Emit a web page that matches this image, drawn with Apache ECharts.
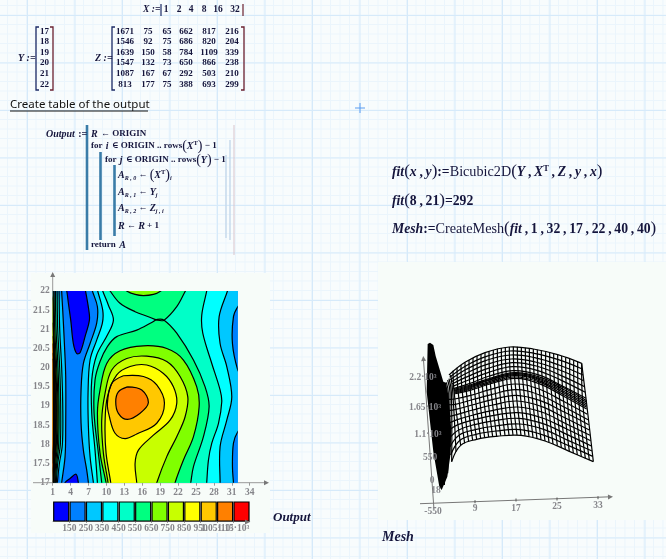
<!DOCTYPE html>
<html><head><meta charset="utf-8">
<style>
html,body{margin:0;padding:0;width:666px;height:559px;overflow:hidden;background-color:#f8fcfd;
background-image:linear-gradient(to right,#d6eafa 1px,transparent 1px),linear-gradient(to bottom,#d6eafa 1px,transparent 1px),linear-gradient(to right,#ebf5fc 1px,transparent 1px),linear-gradient(to bottom,#ebf5fc 1px,transparent 1px);
background-size:47.5px 47.5px,47.5px 47.5px,9.5px 9.5px,9.5px 9.5px;
background-position:27px 0,0 15px,7px 0,0 5px;}
#c{width:666px;height:559px}
</style>
<script src="https://cdn.jsdelivr.net/npm/echarts@6/dist/echarts.min.js"></script>
</head><body><div id="c"></div>
<script>
// ---- worksheet tables
const X=[1,2,4,8,16,32];
const Y=[17,18,19,20,21,22];
const Z=[[1671,75,65,662,817,216],[1546,92,75,686,820,204],[1639,150,58,784,1109,339],[1547,132,73,650,866,238],[1087,167,67,292,503,210],[813,177,75,388,693,299]];
// ---- contour axis ticks and colour bands
const bandLow=[50,150,250,350,450,550,650,750,850,950,1050,1150];
const bandHigh=[150,250,350,450,550,650,750,850,950,1050,1150,1250];
const bandColors=['#0000ff','#0080ff','#00c8ff','#00ffff','#00ffc8','#00ff80','#80ff00','#c8ff00','#ffff00','#ffc800','#ff8000','#ff0000'];
// ---- contour lines, as [x,y] in axis units
const blueTop=[[3.07,22.11],[3.35,22],[3.63,21.68],[4.02,21.24],[4.46,20.63],[5.02,20.37],[5.58,20.39],[6.42,20.81],[7.15,21.24],[7.05,21.5],[6.5,22],[6.3,22.11]];
const blueBottom=[[2.79,16.85],[3.07,17],[3.91,17.11],[4.91,17.22],[5.3,17],[5.41,16.85]];
const c250R1=[[32.7,21.68],[32,21.59],[31.28,21.33],[31.11,20.63],[32,19.94],[32.7,19.81]];
const c250R2=[[33,18.46],[32,18.33],[31.28,18.03],[31.11,17.42],[31.28,17],[31.33,16.85],[33,16.85]];
const c250Mid=[[7.5,22.11],[7.65,22],[8.49,21.59],[8.37,21.16],[7.26,20.63],[6.14,20.11],[5.75,19.42],[5.75,18.55],[6.14,17.85],[6.7,17.33],[6.98,17],[7.09,16.85]];
const c350Mid=[[8.4,22.11],[8.54,22],[9.38,21.5],[9.32,21.16],[8.37,20.72],[7.26,20.2],[6.92,19.33],[6.98,18.46],[7.26,17.68],[7.82,17],[7.93,16.85]];
const c350Right=[[30.44,22.11],[30.27,22],[28.88,21.33],[29.04,20.63],[30.16,20.03],[31,19.24],[30.16,18.63],[29.04,17.94],[29.04,17],[29.04,16.85]];
const c450Mid=[[9.2,22.11],[9.38,22],[10.33,21.63],[11.17,21.24],[10.16,20.85],[8.37,20.33],[7.54,19.68],[7.54,18.81],[8.09,17.85],[8.49,17],[8.55,16.85]];
const c450Right=[[26.92,22.11],[26.8,22],[25.97,21.37],[26.14,20.9],[27.65,20.11],[29.04,19.42],[29.32,19.11],[28.77,18.55],[27.65,18.03],[27.09,17.59],[26.8,17],[26.75,16.85]];
const c550Cap=[[10.16,22.11],[10.61,22],[12.28,21.68],[14.8,21.46],[17.03,21.33],[18.54,21.24],[19.66,21.24],[21.78,21.59],[23.23,22],[23.63,22.11]];
const c550Main=[[9.3,16.85],[9.21,17],[8.65,17.77],[7.93,18.81],[8.09,19.68],[8.93,20.16],[10.16,20.55],[11.73,20.81],[15.08,20.98],[17.59,21.18],[18.54,21.26],[19.66,21.24],[21.78,20.9],[24.58,20.2],[26.53,19.5],[27.2,18.98],[26.25,18.2],[24.58,17.42],[24.13,17],[24,16.85]];
const c650Cap=[[12.84,22.11],[13.4,22],[14.8,21.91],[16.2,21.88],[17.87,21.91],[19.1,22],[19.66,22.11]];
const c650Main=[[10.05,16.85],[9.94,17],[8.93,17.77],[8.49,18.81],[8.93,19.42],[10.05,20.11],[12.28,20.44],[16.2,20.57],[20.11,20.5],[22.9,20.2],[25.13,19.5],[25.53,18.98],[24.58,18.2],[22.9,17.59],[21.5,17],[21.4,16.85]];
const c750=[[10.35,16.85],[10.27,17],[9.49,17.77],[9.21,18.63],[9.77,19.33],[10.89,19.94],[13.4,20.24],[16.75,20.3],[20.11,20.16],[22.34,19.77],[23.63,19.24],[23.18,18.72],[21.78,18.2],[20.11,17.68],[18.43,17],[18.3,16.85]];
const c850=[[10.8,16.85],[10.72,17],[9.94,17.77],[9.77,18.55],[10.16,19.24],[11.73,19.81],[13.96,20.03],[16.75,20.07],[19.55,19.85],[21.22,19.5],[21.78,19.07],[20.66,18.63],[17.87,18.24],[15.36,17.85],[14.8,17.5],[15.08,17],[15.15,16.85]];
const c950=[[12.84,19.79],[16.2,19.77],[18.43,19.55],[19.72,19.07],[18.43,18.55],[15.08,18.27],[13.12,18.15],[11.45,18.29],[10.5,18.72],[10.16,19.07],[10.89,19.59]];
const c1050=[[13.51,19.5],[15.92,19.42],[17.03,19.09],[15.64,18.81],[13.51,18.65],[12,18.81],[11.56,19.11],[12,19.37]];
const left250=[[2.5,22.15],[2.5,22],[2.68,21.5],[2.96,20.63],[3.18,19.76],[3.18,18.46],[3.07,17.68],[2.5,17],[2.4,16.85]];
const left350=[[2.06,22.15],[2.06,22],[2.17,21],[2.5,20],[2.68,19],[2.62,18],[2.12,17.5],[1.78,17],[1.75,16.85]];
const left450=[[1.73,22.15],[1.73,22],[1.84,21],[2.17,20],[2.34,19],[2.28,18],[1.84,17.5],[1.61,17],[1.6,16.85]];
const left550=[[1.45,22.15],[1.45,22],[1.56,21],[1.89,20],[2.06,19],[2,18],[1.67,17.5],[1.45,17],[1.44,16.85]];
const left650=[[1.22,22.15],[1.22,22],[1.34,21],[1.67,20],[1.89,19],[1.78,18],[1.5,17.5],[1.34,17],[1.33,16.85]];
const left750=[[1.06,22.15],[1.06,22],[1.17,21],[1.5,20],[1.73,19],[1.61,18],[1.34,17.5],[1.22,17],[1.21,16.85]];
const left850=[[0.6,21.95],[1,21.76],[1.06,21],[1.39,20],[1.61,19],[1.5,18],[1.28,17.5],[1.11,17],[1.1,16.85]];
const left950=[[0.6,21.2],[1,21.13],[1.28,20],[1.5,19],[1.39,18],[1.17,17.5],[1.06,17],[1.05,16.85]];
const left1050=[[0.6,20.85],[1,20.78],[1.22,20],[1.39,19],[1.28,18],[1.11,17.5],[1,17],[0.9,16.85]];
const left1150=[[0.6,20.65],[1,20.6],[1.17,20],[1.28,19],[1.22,18],[1.06,17.5],[0.8,17.1]];
const left1250=[[0.6,20.4],[1,20.35],[1.11,20],[1.2,19],[1.15,18],[0.9,17.5]];
const left1350=[[0.6,20.25],[1,20.2],[1.06,19.8],[1.12,19],[1.08,18],[0.8,17.6]];
// ---- projected mesh, as [u,v] in the plane of the 3-D picture
const meshSolid=[[143,42],[150,38],[160,45],[167,78],[190,155],[198,158],[206,200],[214,300],[212,370],[202,440],[185,480],[178,470],[160,365],[140,185]];
const meshTop=[[199,157],[203,150],[207,146],[212,135],[219,122],[231,113],[243,105],[255,97],[267,90],[279,84],[291,78],[303,73],[315,68],[327,64],[340,60],[352,56],[364,54],[376,52],[388,51],[400,50],[412,50],[424,51],[436,53],[448,55],[460,57],[472,59],[484,61],[497,64],[509,67],[521,70],[533,74],[545,78],[557,82],[569,87],[581,91],[593,96],[605,100]];
const meshRidge=[[205,190],[210,188],[214,186],[218,184],[222,183],[234,181],[246,178],[258,175],[270,171],[282,167],[294,162],[306,158],[318,154],[330,150],[342,146],[355,143],[367,140],[379,137],[391,135],[403,134],[415,134],[427,135],[439,137],[451,140],[463,143],[475,147],[487,151],[499,156],[512,162],[524,168],[536,175],[548,182],[560,189],[572,196],[584,203],[596,210],[608,216]];
const meshBottom=[[193,465],[203,430],[215,395],[228,365],[242,346],[254,340],[266,335],[278,331],[290,328],[302,325],[314,323],[326,321],[338,320],[350,319],[362,317],[375,316],[387,315],[399,315],[411,315],[423,316],[435,317],[447,319],[459,322],[471,326],[483,329],[495,333],[507,337],[519,342],[532,347],[544,353],[556,358],[568,364],[580,369],[592,375],[604,380],[616,385],[628,390]];
const meshLongU=[207,255,315,388,460,533,605];
const meshLongShift=[0,2,4,6,9,11,13,15,15,15,15,15,15,17,19,21,23,25,27,29,31,33,35];
const meshLongV=[[135,97,68,51,57,74,100],[142,108,80,63,70,89,117],[149,118,91,75,83,105,135],[156,129,103,87,96,120,152],[162,139,115,98,108,136,170],[169,150,127,110,121,151,187],[176,161,138,122,134,167,205],
[178,165,145,128,140,172,212],[181,168,148,131,144,177,217],[183,171,150,134,147,182,222],[186,174,154,137,151,187,227],[189,177,158,141,155,192,232],[192,181,162,145,160,197,237],
[207,196,178,162,177,214,253],[223,210,194,179,195,231,269],[238,225,209,196,212,247,284],[254,240,225,213,229,264,300],[269,255,241,231,246,281,316],[284,269,256,248,264,297,332],[300,284,272,265,281,314,348],[315,299,288,282,298,331,363],[331,313,303,299,316,347,379],[346,328,319,316,333,364,395]];
const meshLeadPoints=[[205,208],[205,224],[205,242],[205,260],[206,280],[207,300],[208,325],[210,350],[212,375],[215,395]];

// ---- assembly: paint order of filled regions, then the lines
const farRight=[[34,16.5],[34,22.6],[-1,22.6],[-1,16.5]];
const rightEdge=[[34,16.5],[34,22.6]];
const leftEdge=[[-1,16.5],[-1,22.6]];
const rev=a=>a.slice().reverse();
const fillRings=[
 ['#0080ff',farRight],['#0000ff',blueTop],['#0000ff',blueBottom],
 ['#00c8ff',c250Mid.concat(rightEdge)],
 ['#0080ff',c250R1],['#0080ff',c250R2],
 ['#00ffff',c350Mid.concat(rev(c350Right))],
 ['#00ffc8',c450Mid.concat(rev(c450Right))],
 ['#00ff80',c550Cap],['#00ff80',c550Main],
 ['#80ff00',c650Cap],['#80ff00',c650Main],
 ['#c8ff00',c750],['#ffff00',c850],['#ffc800',c950],['#ff8000',c1050],
 ['#00c8ff',leftEdge.concat(rev(left250))],['#00ffff',leftEdge.concat(rev(left350))],['#00ffc8',leftEdge.concat(rev(left450))],
 ['#00ff80',leftEdge.concat(rev(left550))],['#80ff00',leftEdge.concat(rev(left650))],['#c8ff00',leftEdge.concat(rev(left750))],
 ['#ffff00',leftEdge.concat(rev(left850))],['#ffc800',leftEdge.concat(rev(left950))],['#ff8000',leftEdge.concat(rev(left1050))],['#ff0000',leftEdge.concat(rev(left1150))]
];
const contourLines=[blueTop,blueBottom,c250R1,c250R2,c250Mid,c350Mid,c350Right,c450Mid,c450Right,c550Cap,c550Main,c650Cap,c650Main,c750,c850,c950.concat([c950[0]]),c1050.concat([c1050[0]]),left250,left350,left450,left550,left650,left750,left850,left950,left1050,left1150,left1250,left1350];
const meshLines=[];
meshTop.forEach((p,i)=>meshLines.push([p,meshRidge[i],meshBottom[i]]));
meshLines.push([[605,100],[620,222],[640,395]]);
meshLongV.forEach((vs,r)=>{
 const line=vs.map((v,j)=>[meshLongU[j]+meshLongShift[r],v]);
 if(r>=13) line.unshift(meshLeadPoints[r-13]);
 meshLines.push(line);
});

// ---- text helpers
const INK='#15153c', GREY='#85858a';
const MATH='"Liberation Serif","DejaVu Serif",serif';
const gfx=[];
function txt(x,y,s,o){o=o||{};gfx.push({type:'text',x,y,z:100,silent:true,style:Object.assign({text:s,font:(o.w||'bold')+' '+(o.size||9.5)+'px '+MATH,fill:o.fill||INK,align:o.align||'left',verticalAlign:'middle'},o.extra||{})});}
function line(pts,color,w,z){gfx.push({type:'polyline',z:z===undefined?90:z,silent:true,shape:{points:pts},style:{stroke:color,lineWidth:w||1,fill:null}});}
function arrow(x,y,dx,dy){const nx=-dy,ny=dx;gfx.push({type:'polygon',z:90,silent:true,shape:{points:[[x+dx*5,y+dy*5],[x+nx*2.5,y+ny*2.5],[x-nx*2.5,y-ny*2.5]]},style:{fill:'#777'}});}
function bracket(x0,x1,y0,y1){line([[x0+3,y0],[x0,y0],[x0,y1],[x0+3,y1]],'#1c2a66',1.3);line([[x1-3,y0],[x1,y0],[x1,y1],[x1-3,y1]],'#6a2030',1.3);}
const mathRich={i:{font:'italic bold 13.7px '+MATH,fill:INK},r:{font:'bold 13.7px '+MATH,fill:INK},n:{font:'14.2px '+MATH,fill:INK},p:{font:'17px '+MATH,fill:INK},s:{font:'bold 8.5px '+MATH,fill:INK,padding:[0,0,6,0]}};
const progRich={i:{font:'italic bold 10px '+MATH,fill:INK},r:{font:'bold 9px '+MATH,fill:INK},p:{font:'14px '+MATH,fill:INK},s:{font:'bold 6.5px '+MATH,fill:INK,padding:[0,0,5,0]},d:{font:'italic bold 6px '+MATH,fill:INK,padding:[7,0,0,0]}};
function rich(x,y,s,r){gfx.push({type:'text',x,y,z:100,silent:true,style:{text:s,verticalAlign:'middle',rich:r}});}

// panels
gfx.push({type:'rect',z:-5,silent:true,shape:{x:31,y:273,width:239,height:260},style:{fill:'#f7fcf9'}});
gfx.push({type:'rect',z:-5,silent:true,shape:{x:378,y:262,width:288,height:258},style:{fill:'#f7fcf9'}});
// X, Y, Z definitions
txt(143,10,'X :=',{size:9.5,w:'italic bold'});
line([[161,4],[161,16]],'#1c2a66',1.2);line([[243,4],[243,16]],'#6a2030',1.2);
const xCols=[166,179,191,204,218,235];
X.forEach((v,i)=>txt(xCols[i],10,String(v),{align:'center'}));
txt(18,58,'Y :=',{size:10,w:'italic bold'});
bracket(36,53,27,90);
const rowsY=[32,42,53,63,74,85];
Y.forEach((v,i)=>txt(44.5,rowsY[i],String(v),{align:'center',size:9}));
txt(95,58,'Z :=',{size:10,w:'italic bold'});
bracket(112,244,27,90);
const zCols=[125,148,167,186,209,232];
Z.forEach((row,r)=>row.forEach((v,c)=>txt(zCols[c],rowsY[r],String(v),{align:'center',size:9})));
// heading
gfx.push({type:'text',x:10,y:105,z:100,silent:true,style:{text:'Create table of the output',font:'11.5px "Noto Sans",sans-serif',fill:'#111',verticalAlign:'middle'}});
line([[10,111],[148,111]],'#111',1);
line([[355,108],[365,108]],'#5a9cf0',1);line([[360,103],[360,113]],'#5a9cf0',1);
// program block
rich(46,134,'{i|Output} {r|:=}',{i:{font:'italic bold 10px '+MATH,fill:INK},r:{font:'bold 10px '+MATH,fill:INK}});
line([[87,125],[87,250]],'#3a7ca8',2.6);line([[100.5,152],[100.5,240]],'#3a7ca8',2.6);line([[114.5,165],[114.5,236]],'#3a7ca8',2.6);
line([[234,125],[234,255]],'#d8c4cc',1);line([[230,140],[230,240]],'#c4d8ea',1.4);line([[226,155],[226,238]],'#c4d8ea',1.4);
rich(91,134,'{i|R} {r|← ORIGIN}',progRich);
rich(91,146,'{r|for} {i|i} {r|∈ ORIGIN .. rows}{p|(}{i|X}{s|T}{p|)}{r| − 1}',progRich);
rich(105,160,'{r|for} {i|j} {r|∈ ORIGIN .. rows}{p|(}{i|Y}{p|)}{r| − 1}',progRich);
rich(118,175,'{i|A}{d|R , 0}{r| ← }{p|(}{i|X}{s|T}{p|)}{d|i}',progRich);
rich(118,192,'{i|A}{d|R , 1}{r| ← }{i|Y}{d|j}',progRich);
rich(118,208,'{i|A}{d|R , 2}{r| ← }{i|Z}{d|j , i}',progRich);
rich(118,226,'{i|R}{r| ← }{i|R}{r| + 1}',progRich);
rich(91,245,'{r|return} {i|A}',progRich);
// right formulas
const cm='\u2009,\u2009';
rich(392,172,'{i|fit}{p|(}{i|x}{r|'+cm+'}{i|y}{p|)}{r|:=}{n|Bicubic2D}{p|(}{i|Y}{r|'+cm+'}{i|X}{s|T}{r|'+cm+'}{i|Z}{r|'+cm+'}{i|y}{r|'+cm+'}{i|x}{p|)}',mathRich);
rich(392,201,'{i|fit}{p|(}{r|8'+cm+'21}{p|)}{r|=292}',mathRich);
rich(392,229,'{i|Mesh}{r|:=}{n|CreateMesh}{p|(}{i|fit}{r|'+cm+'1'+cm+'32'+cm+'17'+cm+'22'+cm+'40'+cm+'40}{p|)}',mathRich);
// plot captions
txt(273,518,'Output',{size:13,w:'italic bold'});
txt(382,537,'Mesh',{size:14,w:'italic bold'});
// contour axis extensions and arrows
line([[33,482.7],[266,482.7]],'#999',1,1);arrow(264,482.7,1,0);
line([[52.7,482.7],[52.7,276]],'#999',1,1);arrow(52.7,277,0,-1);
// colour bar axis
arrow(245,522,1,0);
// mesh axes
line([[420,503.7],[610,496.8]],'#777',1,1);arrow(608,496.9,1,-0.04);
line([[434,510],[423.5,360]],'#777',1,1);arrow(423.6,361,-0.07,-1);
[[475,501.7],[516,500],[557,499],[598,497.7]].forEach(p=>line([[p[0],p[1]-1.5],[p[0],p[1]+1.5]],'#555',1,1));
const G={fill:GREY,size:9.5,align:'center'};
const meshYLabels=[['2.2·10³',423,378],['1.65·10³',425,408],['1.1·10³',428,435],['550',430,458],['0',432,481],['18',436,491]];
const meshXLabels=[['-550',433,512],['9',475,509],['17',516,509],['25',557,507],['33',598,506]];
meshYLabels.concat(meshXLabels).forEach(l=>txt(l[1],l[2],l[0],G));

const chart=echarts.init(document.getElementById('c'),null,{renderer:'canvas',width:666,height:559});
const axisText={color:GREY,fontFamily:MATH,fontWeight:'bold',fontSize:9.5};
function clipRect(api){const a=api.coord([1,22]),b=api.coord([32,17]);return {type:'rect',shape:{x:a[0],y:a[1],width:b[0]-a[0],height:b[1]-a[1]}};}
chart.setOption({
 animation:false,
 backgroundColor:'transparent',
 graphic:{elements:gfx},
 grid:[
  {left:52.7,top:291,width:197,height:191.7},
  {left:53,top:502,width:196.7,height:19},
  {left:380,top:330,width:240,height:229}
 ],
 xAxis:[
  {gridIndex:0,type:'value',min:1,max:34,interval:3,splitLine:{show:false},axisLine:{show:false},axisTick:{lineStyle:{color:'#999'},length:3},axisLabel:Object.assign({margin:5},axisText)},
  {gridIndex:1,type:'value',min:50,max:1250,interval:100,splitLine:{show:false},axisLine:{lineStyle:{color:'#999'}},axisTick:{lineStyle:{color:'#999'},length:2},
   axisLabel:Object.assign({margin:3,showMinLabel:false,showMaxLabel:false,hideOverlap:false,formatter:v=>v>=1000?(v/1000).toFixed(2)+'·10³':String(v)},axisText)},
  {gridIndex:2,type:'value',min:0,max:720,show:false}
 ],
 yAxis:[
  {gridIndex:0,type:'value',min:17,max:22,interval:0.5,splitLine:{show:false},axisLine:{show:false},axisTick:{show:false},axisLabel:Object.assign({margin:3},axisText)},
  {gridIndex:1,type:'value',min:0,max:1,show:false},
  {gridIndex:2,type:'value',min:0,max:687,inverse:true,show:false}
 ],
 series:[
  {type:'custom',xAxisIndex:0,yAxisIndex:0,z:2,silent:true,data:fillRings.map((r,i)=>[i,17]),
   renderItem(p,api){const r=fillRings[p.dataIndex];return {type:'polygon',shape:{points:r[1].map(q=>api.coord(q)),smooth:0.35},style:{fill:r[0]},clipPath:clipRect(api)};}},
  {type:'custom',xAxisIndex:0,yAxisIndex:0,z:3,silent:true,data:contourLines.map((r,i)=>[i,17]),
   renderItem(p,api){return {type:'polyline',shape:{points:contourLines[p.dataIndex].map(q=>api.coord(q)),smooth:0.35},style:{stroke:'#000',lineWidth:1.2,fill:null},clipPath:clipRect(api)};}},
  {type:'custom',xAxisIndex:1,yAxisIndex:1,silent:true,data:bandLow.map((v,i)=>[v,bandHigh[i]]),
   renderItem(p,api){const a=api.coord([api.value(0),1]),b=api.coord([api.value(1),0]);return {type:'rect',shape:{x:a[0]+0.7,y:a[1],width:b[0]-a[0]-1.4,height:b[1]-a[1]},style:{fill:bandColors[p.dataIndex],stroke:'#000',lineWidth:1.2}};}},
  {type:'custom',xAxisIndex:2,yAxisIndex:2,silent:true,z:4,data:[[0,0]],
   renderItem(p,api){return {type:'polygon',shape:{points:meshSolid.map(q=>api.coord(q))},style:{fill:'#000'}};}},
  {type:'custom',xAxisIndex:2,yAxisIndex:2,silent:true,z:5,data:meshLines.map((l,i)=>[i,0]),
   renderItem(p,api){return {type:'polyline',shape:{points:meshLines[p.dataIndex].map(q=>api.coord(q)),smooth:0.4},style:{stroke:'#000',lineWidth:1.2,fill:null}};}}
 ]
});
</script></body></html>
